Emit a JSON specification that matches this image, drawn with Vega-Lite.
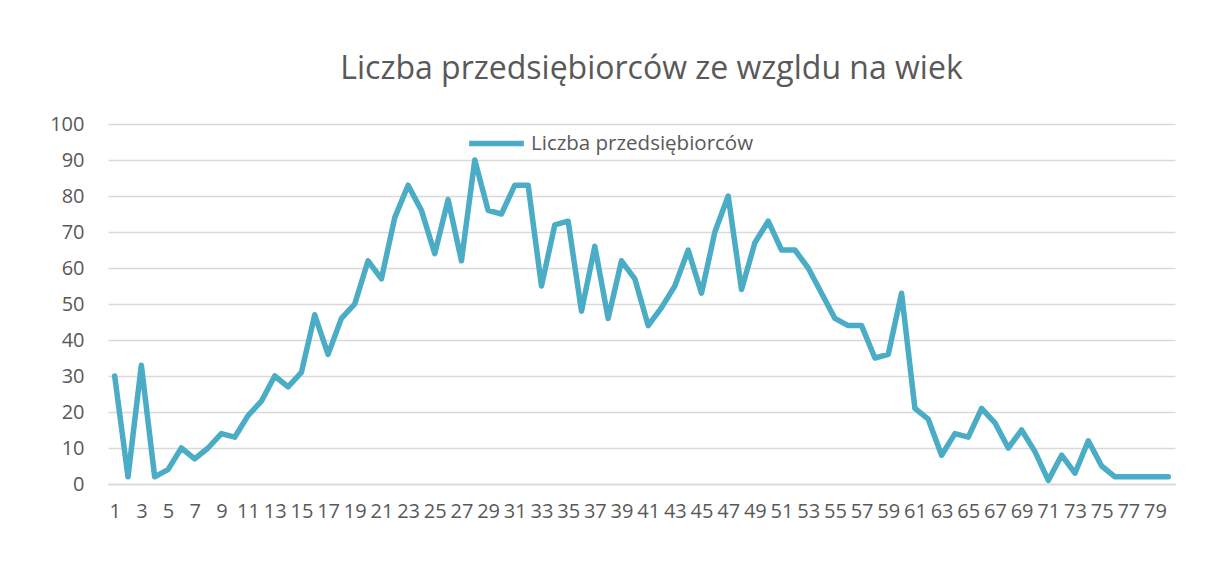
{
  "$schema": "https://vega.github.io/schema/vega-lite/v6.json",
  "width": 1067,
  "height": 360,
  "autosize": "none",
  "padding": {"left": 108, "top": 124, "right": 38, "bottom": 101},
  "background": "white",
  "title": {
    "text": "Liczba przedsiębiorców ze wzgldu na wiek",
    "font": "Open Sans",
    "fontSize": 32,
    "fontWeight": "normal",
    "color": "#595959",
    "anchor": "middle",
    "offset": 27,
    "dx": 10
  },
  "data": {
    "values": [
      {"wiek": 1, "liczba": 30}, {"wiek": 2, "liczba": 2}, {"wiek": 3, "liczba": 33}, {"wiek": 4, "liczba": 2},
      {"wiek": 5, "liczba": 4}, {"wiek": 6, "liczba": 10}, {"wiek": 7, "liczba": 7}, {"wiek": 8, "liczba": 10},
      {"wiek": 9, "liczba": 14}, {"wiek": 10, "liczba": 13}, {"wiek": 11, "liczba": 19}, {"wiek": 12, "liczba": 23},
      {"wiek": 13, "liczba": 30}, {"wiek": 14, "liczba": 27}, {"wiek": 15, "liczba": 31}, {"wiek": 16, "liczba": 47},
      {"wiek": 17, "liczba": 36}, {"wiek": 18, "liczba": 46}, {"wiek": 19, "liczba": 50}, {"wiek": 20, "liczba": 62},
      {"wiek": 21, "liczba": 57}, {"wiek": 22, "liczba": 74}, {"wiek": 23, "liczba": 83}, {"wiek": 24, "liczba": 76},
      {"wiek": 25, "liczba": 64}, {"wiek": 26, "liczba": 79}, {"wiek": 27, "liczba": 62}, {"wiek": 28, "liczba": 90},
      {"wiek": 29, "liczba": 76}, {"wiek": 30, "liczba": 75}, {"wiek": 31, "liczba": 83}, {"wiek": 32, "liczba": 83},
      {"wiek": 33, "liczba": 55}, {"wiek": 34, "liczba": 72}, {"wiek": 35, "liczba": 73}, {"wiek": 36, "liczba": 48},
      {"wiek": 37, "liczba": 66}, {"wiek": 38, "liczba": 46}, {"wiek": 39, "liczba": 62}, {"wiek": 40, "liczba": 57},
      {"wiek": 41, "liczba": 44}, {"wiek": 42, "liczba": 49}, {"wiek": 43, "liczba": 55}, {"wiek": 44, "liczba": 65},
      {"wiek": 45, "liczba": 53}, {"wiek": 46, "liczba": 70}, {"wiek": 47, "liczba": 80}, {"wiek": 48, "liczba": 54},
      {"wiek": 49, "liczba": 67}, {"wiek": 50, "liczba": 73}, {"wiek": 51, "liczba": 65}, {"wiek": 52, "liczba": 65},
      {"wiek": 53, "liczba": 60}, {"wiek": 54, "liczba": 53}, {"wiek": 55, "liczba": 46}, {"wiek": 56, "liczba": 44},
      {"wiek": 57, "liczba": 44}, {"wiek": 58, "liczba": 35}, {"wiek": 59, "liczba": 36}, {"wiek": 60, "liczba": 53},
      {"wiek": 61, "liczba": 21}, {"wiek": 62, "liczba": 18}, {"wiek": 63, "liczba": 8}, {"wiek": 64, "liczba": 14},
      {"wiek": 65, "liczba": 13}, {"wiek": 66, "liczba": 21}, {"wiek": 67, "liczba": 17}, {"wiek": 68, "liczba": 10},
      {"wiek": 69, "liczba": 15}, {"wiek": 70, "liczba": 9}, {"wiek": 71, "liczba": 1}, {"wiek": 72, "liczba": 8},
      {"wiek": 73, "liczba": 3}, {"wiek": 74, "liczba": 12}, {"wiek": 75, "liczba": 5}, {"wiek": 76, "liczba": 2},
      {"wiek": 77, "liczba": 2}, {"wiek": 78, "liczba": 2}, {"wiek": 79, "liczba": 2}, {"wiek": 80, "liczba": 2}
    ]
  },
  "mark": {"type": "line", "strokeWidth": 5.5, "strokeCap": "round", "strokeJoin": "round"},
  "encoding": {
    "x": {
      "field": "wiek",
      "type": "ordinal",
      "sort": "ascending",
      "scale": {"type": "point", "padding": 0.5},
      "axis": {
        "title": null,
        "labelAngle": 0,
        "labelExpr": "datum.value % 2 == 1 ? datum.label : ''",
        "labelFont": "Open Sans",
        "labelFontSize": 20,
        "labelColor": "#595959",
        "labelPadding": 17,
        "labelOverlap": false,
        "ticks": false,
        "grid": false,
        "domainColor": "#d9d9d9",
        "domainWidth": 1.5
      }
    },
    "y": {
      "field": "liczba",
      "type": "quantitative",
      "scale": {"domain": [0, 100], "nice": false},
      "axis": {
        "title": null,
        "values": [0, 10, 20, 30, 40, 50, 60, 70, 80, 90, 100],
        "labelFont": "Open Sans",
        "labelFontSize": 20,
        "labelColor": "#595959",
        "labelPadding": 24,
        "ticks": false,
        "domain": false,
        "gridColor": "#d9d9d9",
        "gridWidth": 1.5
      }
    },
    "color": {
      "datum": "Liczba przedsiębiorców",
      "scale": {"range": ["#4BACC6"]},
      "legend": {
        "title": null,
        "orient": "none",
        "legendX": 358,
        "legendY": -11,
        "symbolType": "stroke",
        "symbolSize": 3000,
        "symbolStrokeWidth": 5.5,
        "labelFont": "Open Sans",
        "labelFontSize": 20.5,
        "labelColor": "#595959",
        "labelOffset": 4,
        "labelLimit": 0
      }
    }
  },
  "config": {
    "view": {"stroke": null}
  }
}
